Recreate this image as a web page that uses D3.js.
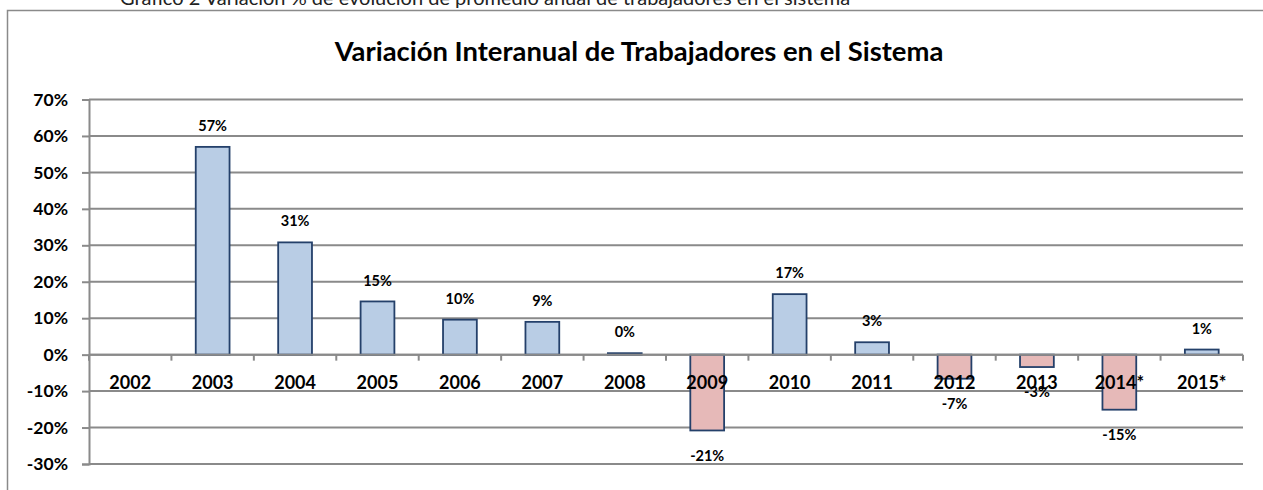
<!DOCTYPE html>
<html>
<head>
<meta charset="utf-8">
<script src="https://cdn.jsdelivr.net/npm/d3@7"></script>
<style>
  body { margin: 0; background: #fff; overflow: hidden; }
  svg { display: block; }
  text { font-family: Lato, "Open Sans", sans-serif; }
</style>
</head>
<body>
<div id="chart"></div>
<script>
let years = ["2002", "2003", "2004", "2005", "2006", "2007", "2008", "2009", "2010", "2011", "2012", "2013", "2014*", "2015*"];
let variation = [null, 0.570, 0.308, 0.146, 0.096, 0.090, 0.004, -0.208, 0.166, 0.034, -0.066, -0.034, -0.151, 0.014];
let yTicks = [-0.3, -0.2, -0.1, 0, 0.1, 0.2, 0.3, 0.4, 0.5, 0.6, 0.7];

let width = 1263,
    height = 490;

let pct = d3.formatLocale({decimal: ".", thousands: ",", grouping: [3], currency: ["", ""], minus: "-"}).format(".0%");

let svg = d3.select("#chart")
    .append("svg")
    .attr("width", width)
    .attr("height", height);

// caption above the chart box (cut off at the top)
svg.append("text")
    .attr("x", 120)
    .attr("y", 5)
    .style("font-size", "20px")
    .style("fill", "#222")
    .text("Gráfico 2 Variación % de evolución de promedio anual de trabajadores en el sistema");

// chart box: only left and top edges are in view
svg.append("path")
    .attr("d", "M7.5," + height + "V10.5H" + width)
    .attr("fill", "none")
    .attr("stroke", "#8a8a8a")
    .attr("stroke-width", 1.5);

svg.append("text")
    .attr("x", 639)
    .attr("y", 61)
    .attr("text-anchor", "middle")
    .style("font-size", "27.4px")
    .style("font-weight", "bold")
    .text("Variación Interanual de Trabajadores en el Sistema");

let x = d3.scaleBand()
    .domain(years)
    .range([89, 1243])
    .paddingInner(0)
    .paddingOuter(0);

let y = d3.scaleLinear()
    .domain([-0.3, 0.7])
    .range([464, 99.5]);

// y labels
let yAxis = svg.append("g")
    .attr("transform", "translate(89,0)")
    .call(d3.axisLeft(y).tickValues(yTicks).tickFormat(pct).tickSize(7).tickPadding(14));
yAxis.select(".domain").attr("stroke", "#8a8a8a").attr("stroke-width", 2);
yAxis.selectAll(".tick line").attr("stroke", "#8a8a8a").attr("stroke-width", 2);
yAxis.selectAll(".tick text")
    .style("font-family", "Lato, sans-serif")
    .style("font-size", "17.5px")
    .style("font-weight", "bold")
    .attr("fill", "#000");

// gridlines
svg.append("g")
    .selectAll("line")
    .data(yTicks)
    .enter().append("line")
    .attr("x1", 89)
    .attr("x2", 1243)
    .attr("y1", d => y(d))
    .attr("y2", d => y(d))
    .attr("stroke", "#8a8a8a")
    .attr("stroke-width", 2);

// bars
let bars = years.map((yr, i) => ({year: yr, value: variation[i]})).filter(d => d.value !== null);
let barW = x.bandwidth() * 0.41;

svg.append("g")
    .selectAll("rect")
    .data(bars)
    .enter().append("rect")
    .attr("x", d => x(d.year) + (x.bandwidth() - barW) / 2)
    .attr("y", d => y(Math.max(0, d.value)))
    .attr("width", barW)
    .attr("height", d => Math.abs(y(d.value) - y(0)))
    .attr("fill", d => d.value < 0 ? "#e6b9b8" : "#b9cde5")
    .attr("stroke", "#24406a")
    .attr("stroke-width", 1.8);

// x axis at zero
let xAxis = svg.append("g")
    .attr("transform", "translate(0," + y(0) + ")");
xAxis.append("line")
    .attr("x1", 89)
    .attr("x2", 1243)
    .attr("stroke", "#8a8a8a")
    .attr("stroke-width", 2);
xAxis.selectAll(".xt")
    .data(years.concat(["end"]))
    .enter().append("line")
    .attr("class", "xt")
    .attr("x1", d => d === "end" ? 1243 : x(d))
    .attr("x2", d => d === "end" ? 1243 : x(d))
    .attr("y1", 0)
    .attr("y2", 6)
    .attr("stroke", "#8a8a8a")
    .attr("stroke-width", 2);
xAxis.selectAll(".xl")
    .data(years)
    .enter().append("text")
    .attr("class", "xl")
    .attr("x", d => x(d) + x.bandwidth() / 2)
    .attr("y", 34)
    .attr("text-anchor", "middle")
    .style("font-size", "18px")
    .style("font-weight", "bold")
    .text(d => d);

// data labels
svg.append("g")
    .selectAll("text")
    .data(bars)
    .enter().append("text")
    .attr("x", d => x(d.year) + x.bandwidth() / 2)
    .attr("y", d => d.value < 0 ? y(d.value) + 25 : y(d.value) - 21)
    .attr("dy", "0.35em")
    .attr("text-anchor", "middle")
    .style("font-size", "14.5px")
    .style("font-weight", "bold")
    .text(d => pct(d.value));
</script>
</body>
</html>
